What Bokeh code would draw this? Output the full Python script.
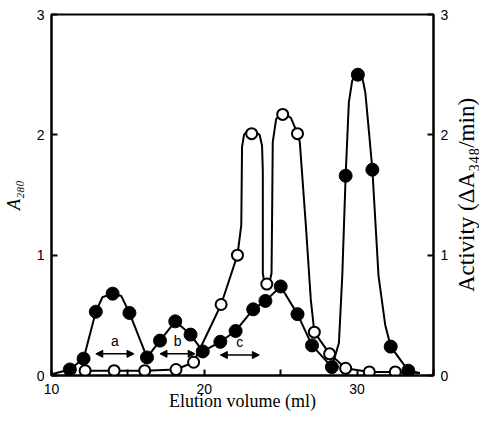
import math
from bokeh.plotting import figure
from bokeh.layouts import row
from bokeh.models import (Range1d, LinearAxis, FixedTicker, Label, Arrow, NormalHead)
from bokeh.embed import file_html
from bokeh.resources import INLINE

# ---- data ----
x_ticks = [10, 15, 20, 25, 30, 35]
x_tick_labels = {10: "10", 15: "", 20: "20", 25: "", 30: "30", 35: ""}
y_ticks = [0, 1, 2, 3]

# A280 (filled circles)
a280_x = [11.2, 12.1, 12.9, 14.0, 15.1, 16.25, 17.1, 18.1, 19.1, 19.9, 21.05, 22.05,
          23.2, 24.0, 25.0, 26.1, 27.05, 28.35, 29.25, 30.05, 31.0, 32.2, 33.35]
a280_y = [0.05, 0.14, 0.53, 0.68, 0.52, 0.15, 0.29, 0.45, 0.34, 0.20, 0.28, 0.37,
          0.55, 0.62, 0.74, 0.51, 0.25, 0.07, 1.66, 2.50, 1.71, 0.24, 0.04]
# hand-drawn A280 curve
a280_curve_x = [10.0, 11.2, 12.1, 12.9, 13.33, 14.0, 14.57, 15.1, 16.25, 17.1, 18.1, 19.1,
                19.9, 21.05, 22.05, 23.2, 24.0, 25.0, 26.1, 27.05, 28.35, 28.81, 29.03,
                29.25, 29.46, 29.68, 30.0, 30.32, 30.54, 30.78, 31.0, 31.4, 31.84, 32.2,
                33.35, 34.1]
a280_curve_y = [0.01, 0.05, 0.14, 0.53, 0.65, 0.68, 0.66, 0.52, 0.15, 0.29, 0.45, 0.34,
                0.20, 0.28, 0.37, 0.55, 0.62, 0.74, 0.51, 0.25, 0.07, 0.27, 0.83,
                1.66, 2.27, 2.45, 2.51, 2.49, 2.35, 2.02, 1.71, 0.83, 0.42, 0.24,
                0.04, 0.02]

# Activity (open circles)
act_x = [12.2, 14.1, 16.1, 18.15, 19.3, 21.1, 22.17, 23.1, 24.09, 25.13, 26.1, 27.2,
         28.2, 29.25, 30.8, 32.5]
act_y = [0.04, 0.04, 0.04, 0.05, 0.11, 0.59, 1.00, 2.01, 0.76, 2.17, 2.01, 0.36,
         0.18, 0.06, 0.03, 0.03]
# hand-drawn activity curve
act_curve_x = [12.2, 14.1, 16.1, 18.15, 19.3, 21.1, 22.17, 22.42, 22.47, 22.6, 22.85, 23.1,
               23.4, 23.62, 23.78, 23.83, 23.83, 23.92, 24.09, 24.28, 24.4, 24.45, 24.48,
               24.7, 25.13, 25.67, 26.1, 26.25, 26.65, 26.97, 27.2, 28.2, 29.25, 30.8,
               32.5, 34.1]
act_curve_y = [0.04, 0.04, 0.04, 0.05, 0.11, 0.59, 1.00, 1.25, 1.90, 2.00, 2.04, 2.03,
               2.02, 2.00, 1.91, 1.70, 0.85, 0.78, 0.76, 0.78, 0.85, 1.50, 1.94,
               2.13, 2.19, 2.14, 2.01, 1.94, 1.24, 0.63, 0.36, 0.18, 0.06, 0.03,
               0.03, 0.02]

# pooled fractions (double arrows)
pool_names = ["a", "b", "c"]
pool_start = [12.9, 17.1, 21.05]
pool_end = [15.4, 19.4, 23.6]
pool_y = [0.18, 0.18, 0.17]

x_title = "Elution volume (ml)"
left_title = "A\u2082\u2088\u2080"
right_title = "Activity (\u0394A\u2083\u2084\u2088/min)"

tick_font = "Liberation Sans"
serif = "Liberation Serif"

# ---- main figure ----
p = figure(width=451, height=413, output_backend="svg", toolbar_location=None,
           title=None, x_range=Range1d(10, 35), y_range=Range1d(0, 3),
           min_border_left=49, min_border_right=16, min_border_top=14,
           min_border_bottom=38)
p.background_fill_color = "white"
p.border_fill_color = "white"
p.grid.visible = False
p.outline_line_color = "black"
p.outline_line_width = 2

right = LinearAxis()
p.add_layout(right, "right")

for ax in (p.xaxis[0], p.yaxis[0], right):
    ax.axis_line_width = 2
    ax.major_tick_line_width = 2
    ax.major_tick_in = 6
    ax.major_tick_out = 0
    ax.minor_tick_line_color = None
    ax.major_label_text_font = tick_font
    ax.major_label_text_font_size = "14px"
    ax.major_label_text_color = "black"
    ax.axis_label_text_font = serif
    ax.axis_label_text_color = "black"
    ax.axis_label_text_font_style = "normal"

p.xaxis[0].ticker = FixedTicker(ticks=x_ticks)
p.xaxis[0].major_label_overrides = x_tick_labels
p.xaxis[0].major_label_standoff = 8
p.xaxis[0].axis_label = x_title
p.xaxis[0].axis_label_text_font_size = "18px"
p.xaxis[0].axis_label_standoff = -6

p.yaxis[0].ticker = FixedTicker(ticks=y_ticks)
p.yaxis[0].major_label_standoff = 7
p.yaxis[0].axis_label = left_title
p.yaxis[0].axis_label_text_font_size = "18px"
p.yaxis[0].axis_label_text_font_style = "italic"
p.yaxis[0].axis_label_standoff = 10

right.ticker = FixedTicker(ticks=y_ticks)
right.major_label_standoff = 7

# curves
p.line(a280_curve_x, a280_curve_y, line_color="black", line_width=2)
p.line(act_curve_x, act_curve_y, line_color="black", line_width=2)

# markers
p.scatter(a280_x, a280_y, marker="circle", size=13, fill_color="black",
          line_color="black", line_width=1)
p.scatter(act_x, act_y, marker="circle", size=11, fill_color="white",
          line_color="black", line_width=2)

# pooled-fraction arrows
for name, xs, xe, yy in zip(pool_names, pool_start, pool_end, pool_y):
    p.add_layout(Arrow(x_start=xs, y_start=yy, x_end=xe, y_end=yy,
                       line_width=1.5, line_color="black",
                       start=NormalHead(size=7, fill_color="black", line_color="black"),
                       end=NormalHead(size=7, fill_color="black", line_color="black")))
    p.add_layout(Label(x=(xs + xe) / 2, y=yy + 0.04, text=name, text_align="center",
                       text_baseline="bottom", text_font=tick_font,
                       text_font_size="14px", text_color="black"))

# ---- narrow strip carrying the right-hand title (reads bottom to top) ----
q = figure(width=27, height=413, output_backend="svg", toolbar_location=None,
           title=None, x_range=Range1d(0, 1), y_range=Range1d(0, 3),
           x_axis_location=None, y_axis_location="left",
           min_border_left=26, min_border_right=0, min_border_top=14,
           min_border_bottom=38)
q.outline_line_color = None
q.background_fill_color = "white"
q.border_fill_color = "white"
q.grid.visible = False
qa = q.yaxis[0]
qa.ticker = FixedTicker(ticks=[])
qa.axis_line_color = None
qa.major_tick_line_color = None
qa.minor_tick_line_color = None
qa.major_label_text_font_size = "0px"
qa.axis_label = right_title
qa.axis_label_text_font = serif
qa.axis_label_text_font_style = "normal"
qa.axis_label_text_font_size = "23px"
qa.axis_label_text_color = "black"
qa.axis_label_standoff = 0

layout = row(p, q, spacing=0)
open("out.html", "w").write(file_html(layout, INLINE))
